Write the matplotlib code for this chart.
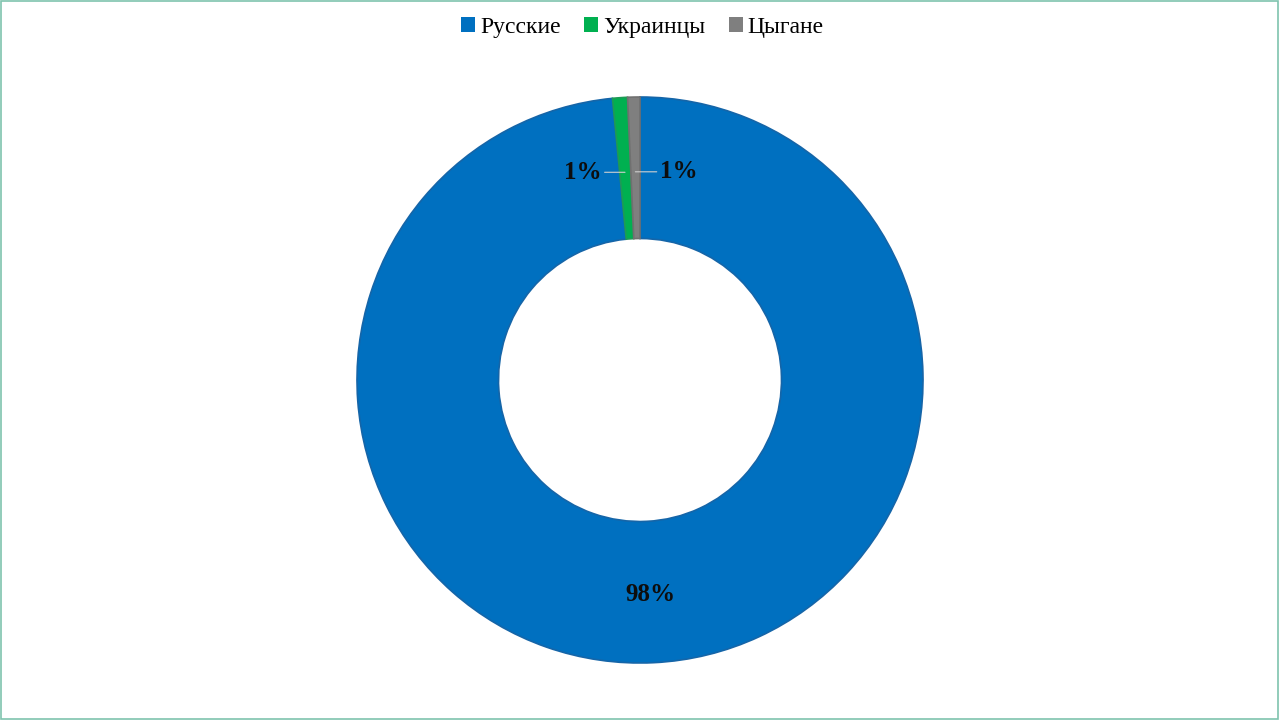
import numpy as np
import matplotlib.pyplot as plt
from matplotlib.patches import Patch, Rectangle

plt.rcParams['font.family'] = ['Liberation Serif', 'DejaVu Serif']

labels = ['Русские', 'Украинцы', 'Цыгане']
values = [98.45, 0.85, 0.7]
colors = ['#0070C0', '#00B050', '#7F7F7F']
edges = ['#1565A8', '#1E9A55', '#707070']

fig = plt.figure(figsize=(12.8, 7.2), dpi=100)
ax = fig.add_axes([0, 0, 1, 1])

cx, cy, R = 640, 340, 283
wedges, _ = ax.pie(values, colors=colors, startangle=90, counterclock=False,
                   center=(cx, cy), radius=R, frame=True,
                   wedgeprops=dict(width=R * 0.5, linewidth=1.2))
for w, ec in zip(wedges, edges):
    w.set_edgecolor(ec)
ax.set_xlim(0, 1280)
ax.set_ylim(0, 720)
ax.set_aspect('equal')
ax.axis('off')

r_mid = R * 0.75
offsets = [(0, -3), (-42, -4), (43, -4)]
for w, v, (dx, dy) in zip(wedges, values, offsets):
    ang = np.deg2rad((w.theta1 + w.theta2) / 2)
    x = cx + r_mid * np.cos(ang)
    y = cy + r_mid * np.sin(ang)
    txt = '%.0f%%' % v
    if w is wedges[0]:
        ax.text(x + dx, y + dy, txt, ha='center', va='center', fontsize=18,
                fontweight='bold', color='#0D0D0D')
    else:
        ax.annotate(txt, xy=(x, y + dy), xytext=(x + dx, y + dy),
                    ha='center', va='center', fontsize=18, fontweight='bold',
                    color='#0D0D0D',
                    arrowprops=dict(arrowstyle='-', color='#D0D0D0', lw=0.8,
                                    shrinkA=0, shrinkB=0))

handles = [Patch(facecolor=c, edgecolor='none') for c in colors]
fig.legend(handles, labels, loc='upper center', bbox_to_anchor=(0.502, 1.006),
           ncol=3, frameon=False, fontsize=17, handlelength=0.6,
           handleheight=0.6, handletextpad=0.2, columnspacing=1.0)

fig.patches.append(Rectangle((0.0005, 0.001), 0.998, 0.997, transform=fig.transFigure,
                             fill=False, edgecolor='#7FC4AE', linewidth=1.2))

fig.savefig('out.png', dpi=100)
